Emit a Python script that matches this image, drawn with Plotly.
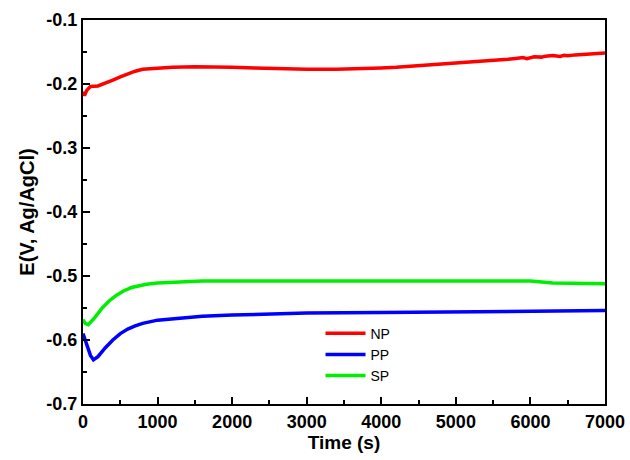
import plotly.graph_objects as go

np_time = [0, 20, 50, 100, 200, 300, 400, 500, 600, 700, 800, 1000, 1200, 1500, 1800, 2000, 2300, 2600, 3000,
           3400, 3700, 4000, 4200, 4500, 4700, 4900, 5200, 5400, 5500, 5600, 5700, 5800, 5900, 5950, 6050, 6150,
           6200, 6300, 6400, 6450, 6500, 6600, 6700, 6800, 6900, 7000]
np_e = [-0.212, -0.218, -0.21, -0.204, -0.203, -0.199, -0.194, -0.189, -0.184, -0.18, -0.177, -0.175, -0.174, -0.173,
        -0.173, -0.174, -0.175, -0.176, -0.177, -0.177, -0.1765, -0.175, -0.174, -0.1715, -0.170, -0.1685, -0.166,
        -0.1645, -0.164, -0.1625, -0.1615, -0.160, -0.1585, -0.1605, -0.1575, -0.1580, -0.1565, -0.1555, -0.1570,
        -0.1550, -0.1560, -0.1545, -0.1540, -0.1530, -0.1525, -0.1515]

pp_time = [0, 50, 100, 140, 200, 300, 400, 500, 600, 700, 800, 1000, 1300, 1600, 2000, 2500, 3000, 4000, 5000, 6000, 7000]
pp_e = [-0.59, -0.608, -0.624, -0.631, -0.626, -0.612, -0.6, -0.59, -0.583, -0.578, -0.574, -0.569, -0.566, -0.563,
        -0.561, -0.559, -0.558, -0.557, -0.556, -0.555, -0.554]

sp_time = [0, 30, 70, 150, 250, 350, 450, 550, 650, 750, 850, 1000, 1300, 1600, 2000, 3000, 4000, 5000, 5500, 6000,
           6300, 6600, 7000]
sp_e = [-0.568, -0.574, -0.576, -0.566, -0.551, -0.539, -0.53, -0.523, -0.518, -0.515, -0.513, -0.511, -0.509,
        -0.508, -0.508, -0.508, -0.508, -0.507, -0.507, -0.508, -0.511, -0.512, -0.512]

x_ticks = [0, 1000, 2000, 3000, 4000, 5000, 6000, 7000]
y_ticks = [-0.7, -0.6, -0.5, -0.4, -0.3, -0.2, -0.1]

fig = go.Figure()
fig.add_trace(go.Scatter(x=np_time, y=np_e, mode="lines", name="NP", line=dict(color="#ff0000", width=3.5)))
fig.add_trace(go.Scatter(x=pp_time, y=pp_e, mode="lines", name="PP", line=dict(color="#0000ff", width=3.5)))
fig.add_trace(go.Scatter(x=sp_time, y=sp_e, mode="lines", name="SP", line=dict(color="#00ee00", width=3.5)))

axis_common = dict(
    showgrid=False, zeroline=False, showline=True, linecolor="black", linewidth=2, mirror=True,
    ticks="inside", ticklen=7, tickwidth=2, tickcolor="black", automargin=False,
    minor=dict(ticks="inside", ticklen=4, tickwidth=2, tickcolor="black"),
    tickfont=dict(family="Liberation Sans, Arial", size=18, color="black", weight="bold"),
)

fig.update_xaxes(
    range=[0, 7000], tickvals=x_ticks, ticktext=[str(v) for v in x_ticks],
    minor_dtick=500, minor_tick0=0,
    title=dict(text="Time (s)", font=dict(family="Liberation Sans, Arial", size=19, color="black", weight="bold"),
               standoff=4),
    **axis_common,
)
fig.update_yaxes(
    range=[-0.7, -0.1], tickvals=y_ticks, ticktext=[f"{v:.1f}" for v in y_ticks],
    minor_dtick=0.05, minor_tick0=-0.7,
    title=dict(text="E(V, Ag/AgCl)", font=dict(family="Liberation Sans, Arial", size=20, color="black", weight="bold"),
               standoff=6),
    **axis_common,
)

fig.update_layout(
    width=630, height=460,
    margin=dict(l=83, r=25, t=20, b=56),
    paper_bgcolor="white", plot_bgcolor="white",
    showlegend=True,
    legend=dict(x=0.455, y=0.225, xanchor="left", yanchor="top", bgcolor="rgba(0,0,0,0)",
                font=dict(family="Liberation Sans, Arial", size=14, color="black"),
                tracegroupgap=0, itemwidth=40),
)

fig.write_html("out.html")
